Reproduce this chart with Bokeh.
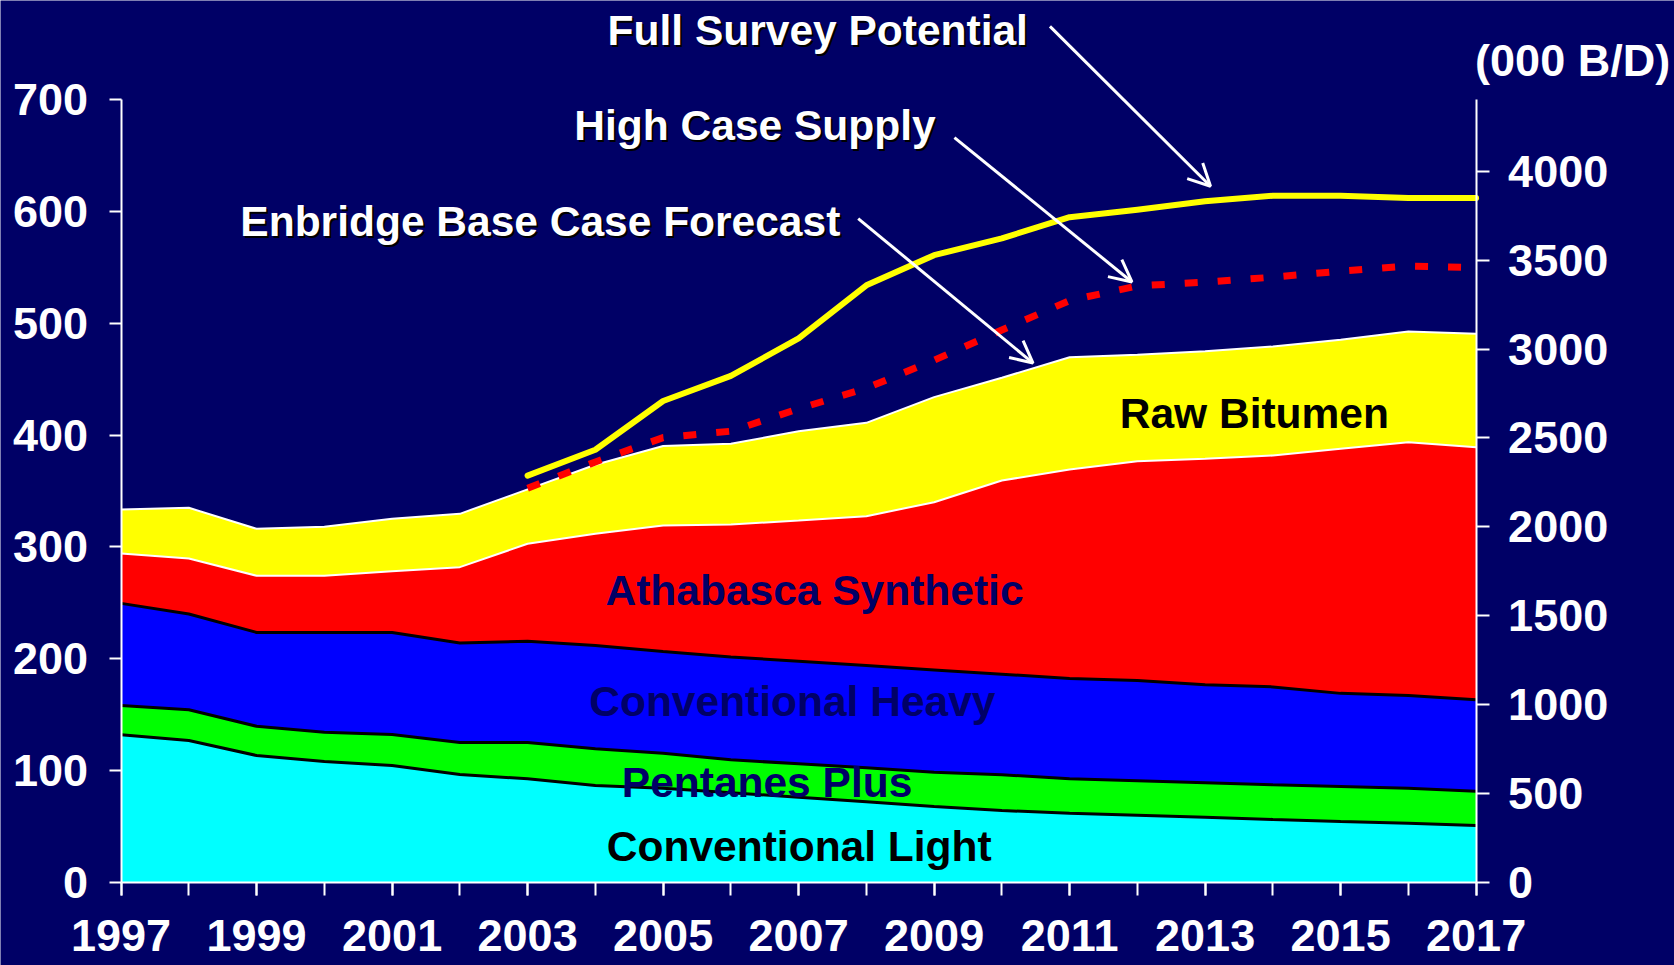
import numpy as np
from bokeh.plotting import figure
from bokeh.models import (Range1d, LinearAxis, FixedTicker, Label, Arrow, OpenHead,
                          ColumnDataSource)
from bokeh.embed import file_html
from bokeh.resources import INLINE

# ---------------- data (000 m3/d) ----------------
years = list(range(1997, 2018))
conv_light = [132.0, 126.8, 113.4, 108.0, 104.5, 96.4, 92.6, 86.6, 84.2, 80.0, 76.1,
              72.0, 67.8, 64.2, 61.8, 60.0, 58.2, 56.2, 54.4, 52.9, 50.8]
pentanes_plus = [26.2, 27.5, 26.2, 26.3, 27.7, 28.7, 32.5, 32.8, 31.3, 29.6, 29.9,
                 30.4, 30.7, 32.0, 30.8, 30.8, 30.8, 31.0, 31.3, 31.3, 30.7]
conv_heavy = [91.3, 85.7, 83.9, 89.2, 91.3, 88.9, 90.6, 92.4, 90.9, 91.9, 91.7,
              91.5, 91.5, 90.0, 89.8, 89.7, 87.7, 87.6, 83.3, 82.9, 81.8]
athabasca_synthetic = [44.6, 49.6, 50.7, 50.7, 54.8, 67.9, 87.1, 99.9, 112.8, 118.5, 125.9,
                       133.6, 150.0, 173.2, 186.9, 196.2, 202.1, 207.0, 218.8, 226.6, 225.9]
raw_bitumen = [39.3, 45.4, 42.0, 43.8, 46.9, 47.7, 48.7, 61.8, 71.1, 72.2, 79.9,
               83.5, 94.0, 91.9, 100.4, 95.1, 96.2, 97.5, 97.5, 99.0, 101.4]

forecast_years = list(range(2003, 2018))
full_survey = [363.8, 386.9, 430.5, 453.0, 486.5, 534.0, 561.0, 576.0, 595.0, 601.7,
               609.3, 614.1, 614.1, 612.2, 612.2]
high_case = [352.5, 376.0, 397.8, 403.5, 423.6, 442.0, 467.0, 494.0, 520.4, 533.5,
             536.8, 541.3, 546.7, 551.2, 549.9]

left_ticks = [0, 100, 200, 300, 400, 500, 600, 700]
right_ticks = [0, 500, 1000, 1500, 2000, 2500, 3000, 3500, 4000]   # 000 B/D
label_years = list(range(1997, 2018, 2))
BBL_PER_M3 = 6.2898
Y_MAX = 700

# ---------------- styles ----------------
NAVY = "#000066"
FONT = "Liberation Sans"
TICK_SIZE = "45px"
TEXT_SIZE = "42.5px"

# the plotting frame covers the whole canvas; axes are pinned with fixed_location
X_START, X_END = 1995.22, 2019.928
Y_START, Y_END = -74.43, 788.8

src = ColumnDataSource(dict(year=years, light=conv_light, pent=pentanes_plus,
                            heavy=conv_heavy, syn=athabasca_synthetic, bit=raw_bitumen))

p = figure(width=1674, height=965, x_range=Range1d(X_START, X_END),
           y_range=Range1d(Y_START, Y_END),
           output_backend="svg", toolbar_location=None,
           min_border_left=0, min_border_right=0, min_border_top=0, min_border_bottom=0,
           background_fill_color=NAVY, border_fill_color=NAVY, outline_line_color=None)
p.xgrid.visible = False
p.ygrid.visible = False

p.varea_stack(stackers=["light", "pent", "heavy", "syn", "bit"], x="year",
              color=["#00FFFF", "#00FF00", "#0000FF", "#FF0000", "#FFFF00"], source=src)

cum = np.cumsum(np.array([conv_light, pentanes_plus, conv_heavy,
                          athabasca_synthetic, raw_bitumen]), axis=0)
for i, col in enumerate(["black", "black", "black", "white", "white"]):
    p.line(years, cum[i], line_color=col, line_width=3 if col == "black" else 2)

p.line(forecast_years, high_case, line_color="#FF0000", line_width=7, line_dash="13 20")
p.line(forecast_years, full_survey, line_color="#FFFF00", line_width=6,
       line_cap="round", line_join="round")

# ---------------- axes ----------------
p.extra_y_ranges = {"bd": Range1d(Y_START * BBL_PER_M3, Y_END * BBL_PER_M3)}
raxis = LinearAxis(y_range_name="bd", ticker=FixedTicker(ticks=right_ticks),
                   fixed_location=years[-1], bounds=(0, Y_MAX * BBL_PER_M3))
p.add_layout(raxis, "right")

xa = p.xaxis[0]
ya = p.yaxis[0]
for ax in [xa, ya, raxis]:
    ax.axis_line_color = "white"
    ax.axis_line_width = 2
    ax.major_tick_line_color = "white"
    ax.major_tick_line_width = 2
    ax.major_tick_in = 0
    ax.major_tick_out = 13
    ax.minor_tick_line_color = None
    ax.major_label_text_color = "white"
    ax.major_label_text_font = FONT
    ax.major_label_text_font_style = "bold"
    ax.major_label_text_font_size = TICK_SIZE

xa.fixed_location = 0
xa.bounds = (years[0], years[-1])
xa.ticker = FixedTicker(ticks=label_years, minor_ticks=years)
xa.minor_tick_line_color = "white"
xa.minor_tick_line_width = 2
xa.minor_tick_in = 0
xa.minor_tick_out = 13
xa.major_label_standoff = 25

ya.fixed_location = years[0]
ya.bounds = (0, Y_MAX)
ya.ticker = FixedTicker(ticks=left_ticks)
ya.major_tick_out = 12
ya.major_label_standoff = 21

raxis.major_label_standoff = 19

# ---------------- annotations ----------------
def add_text(x, y, text, color, shadow=False, size=TEXT_SIZE):
    if shadow:
        p.add_layout(Label(x=x, y=y, text=text, text_color="black", text_font=FONT,
                           text_font_style="bold", text_font_size=size,
                           text_baseline="alphabetic", x_offset=2, y_offset=-2))
    p.add_layout(Label(x=x, y=y, text=text, text_color=color, text_font=FONT,
                       text_font_style="bold", text_font_size=size,
                       text_baseline="alphabetic"))

add_text(2004.18, 762.2, "Full Survey Potential", "white", True)
add_text(2003.69, 676.7, "High Case Supply", "white", True)
add_text(1998.76, 590.7, "Enbridge Base Case Forecast", "white", True)
add_text(2016.985, 735.3, "(000 B/D)", "white", size=TICK_SIZE)
add_text(2011.74, 419.3, "Raw Bitumen", "black")
add_text(2004.15, 261.2, "Athabasca Synthetic", NAVY)
add_text(2003.91, 161.7, "Conventional Heavy", NAVY)
add_text(2004.39, 89.5, "Pentanes Plus", NAVY)
add_text(2004.17, 32.3, "Conventional Light", "black")

for xs, ys, xe, ye in [(2010.71, 765.7, 2013.08, 622.6),
                       (2009.30, 666.2, 2011.92, 537.0),
                       (2007.88, 593.7, 2010.46, 464.5)]:
    p.add_layout(Arrow(x_start=xs, y_start=ys, x_end=xe, y_end=ye,
                       line_color="white", line_width=3,
                       end=OpenHead(size=22, line_color="white", line_width=3)))

open("out.html", "w").write(file_html(p, INLINE))
